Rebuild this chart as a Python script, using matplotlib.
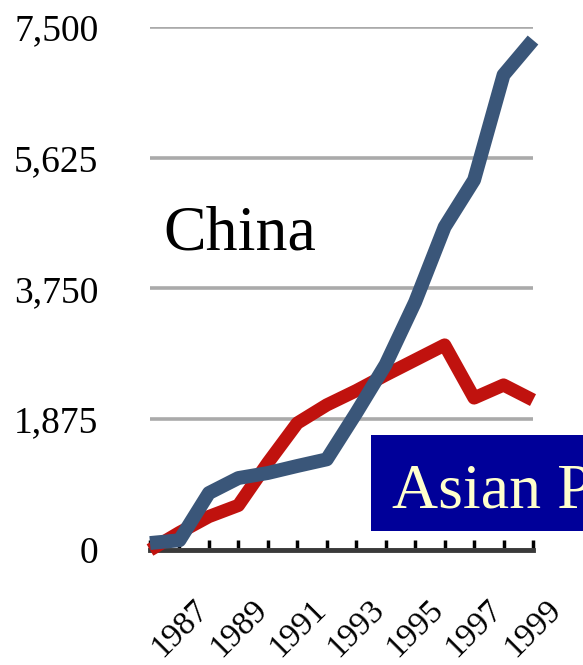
import matplotlib
matplotlib.use("Agg")
import matplotlib.pyplot as plt
from matplotlib.patches import Rectangle
from matplotlib.transforms import ScaledTranslation

years = list(range(1986, 2000))
china = [100, 140, 817, 1032, 1104, 1205, 1300, 1965, 2660, 3556, 4632, 5306, 6812, 7313]
asian = [0, 250, 480, 640, 1250, 1820, 2080, 2285, 2510, 2725, 2940, 2180, 2366, 2150]
y_ticks = [0, 1875, 3750, 5625, 7500]
y_labels = ["0", "1,875", "3,750", "5,625", "7,500"]
x_labels = [str(y) if y % 2 == 1 else "" for y in years]

plt.rcParams['font.family'] = ['Liberation Serif', 'DejaVu Serif']

fig = plt.figure(figsize=(5.83, 6.65), dpi=100)
ax = fig.add_axes([150 / 583, 115 / 665, 383 / 583, 523 / 665])

ax.plot(years, asian, color='#c0120e', lw=9.5, clip_on=False, zorder=3,
        solid_joinstyle='round', solid_capstyle='butt')
ax.plot(years, china, color='#3a5679', lw=10, clip_on=False, zorder=4,
        solid_joinstyle='round', solid_capstyle='butt')

ax.set_xlim(years[0], years[-1])
ax.set_ylim(0, 7500)
ax.set_yticks(y_ticks)
ax.set_yticklabels(y_labels, fontsize=27)
ax.grid(axis='y', color='#aaaaaa', lw=2.6)
ax.set_axisbelow(True)

ax.set_xticks(years)
ax.set_xticklabels(x_labels, fontsize=24, rotation=45)
for lab in ax.get_xticklabels():
    lab.set_transform(lab.get_transform() + ScaledTranslation(10 / 100, 0, fig.dpi_scale_trans))

ax.tick_params(axis='y', length=0, pad=37)
ax.tick_params(axis='x', direction='in', length=7, width=2.5, color='black', pad=32)

for s in ['left', 'right', 'top']:
    ax.spines[s].set_visible(False)
ax.spines['bottom'].set_color('#3a3a3a')
ax.spines['bottom'].set_linewidth(3.5)
ax.spines['bottom'].set_zorder(2)

fig.text(163 / 583, 1 - 250 / 665, "China", fontsize=46, va='baseline', ha='left')
fig.patches.append(Rectangle((371 / 583, 1 - 531 / 665), 0.5, 96 / 665,
                             transform=fig.transFigure, facecolor='#000099', edgecolor='none', zorder=5))
fig.text(392 / 583, 1 - 507 / 665, "Asian P", fontsize=46, va='baseline', ha='left', color='#ffffcc', zorder=6)

fig.savefig('out.png', dpi=100)
